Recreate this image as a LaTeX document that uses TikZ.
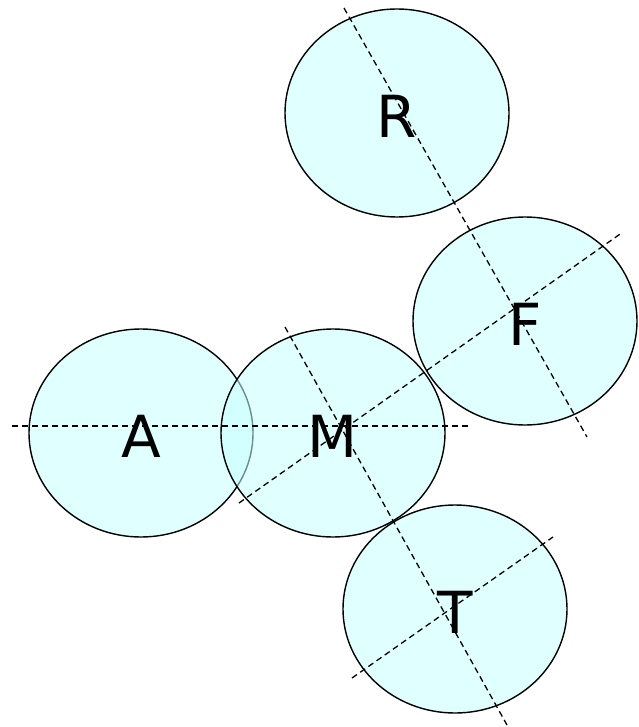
\documentclass[tikz,border=0pt]{standalone}
\usepackage{fontspec}
\setmainfont{DejaVu Sans}
\usetikzlibrary{shapes.geometric}
\definecolor{cfill}{RGB}{224,255,255}
\definecolor{mfill}{RGB}{199,255,255}
\begin{document}
\begin{tikzpicture}[x=1pt,y=-1pt,
  circ/.style={ellipse,draw=black,line width=1.4pt,fill=cfill,minimum width=224pt,minimum height=208pt,inner sep=0pt},
  circm/.style={circ,fill=mfill,fill opacity=0.55},
  lbl/.style={font=\fontsize{58}{60}\selectfont,inner sep=0pt,anchor=center},
  axis/.style={dashed,dash pattern=on 6pt off 4pt,line width=1.3pt,black}]
\useasboundingbox (0,0) rectangle (638,727);
\node[circ] (R) at (397,113) {};
\node[circ] (F) at (525,321) {};
\node[circ] (A) at (141,433) {};
\node[circ] (T) at (455,609) {};
\node[circm] (M) at (333,433) {};
\node[lbl] (Rl) at (397,116) {R};
\node[lbl] (Fl) at (525,324) {F};
\node[lbl] (Al) at (141,436) {A};
\node[lbl] (Ml) at (333,436) {M};
\node[lbl] (Tl) at (455,612) {T};
\coordinate (h1) at (12,426);
\coordinate (h2) at (468,426);
\coordinate (r1) at (344,8);
\coordinate (r2) at (587,437);
\coordinate (m1) at (239,503);
\coordinate (m2) at (623,232);
\coordinate (t1) at (285,327);
\coordinate (t2) at (507,725);
\coordinate (s1) at (352,678);
\coordinate (s2) at (553,537);
\draw[axis] (h1) -- (h2);
\draw[axis] (r1) -- (r2);
\draw[axis] (m1) -- (m2);
\draw[axis] (t1) -- (t2);
\draw[axis] (s1) -- (s2);
\end{tikzpicture}
\end{document}
